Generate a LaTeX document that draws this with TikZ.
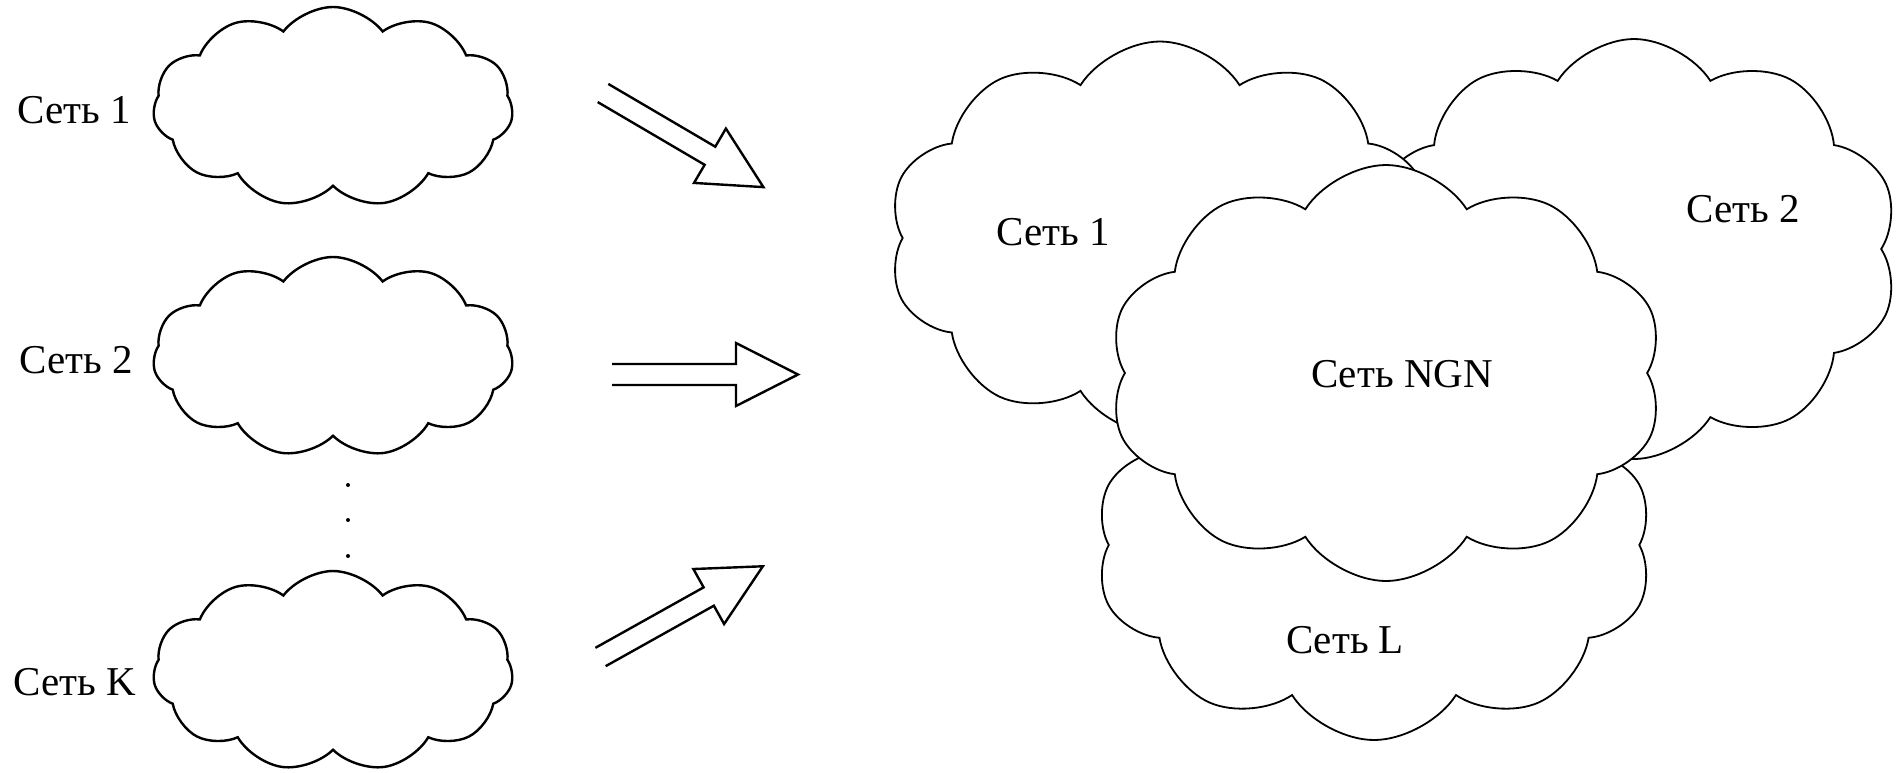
\documentclass[tikz,border=0pt]{standalone}
\usepackage{fontspec}
\setmainfont{Liberation Serif}
\usetikzlibrary{shapes.symbols}
\tikzset{
  lbl/.style={inner sep=0pt, font=\fontsize{10.25}{12}\selectfont},
  smallcloud/.style={cloud, cloud puffs=11, cloud puff arc=105, cloud ignores aspect,
    draw, line width=0.6pt, fill=white, inner sep=0pt, minimum width=90pt, minimum height=50pt},
  bigcloud/.style={cloud, cloud puffs=10, cloud puff arc=115, cloud ignores aspect,
    draw, line width=0.45pt, fill=white, inner sep=0pt},
  hollowarrow/.pic={\draw[line width=0.6pt, line join=miter]
    (0,-10.5) -- (124,-10.5) -- (124,-31.5) -- (186,0) -- (124,31.5) -- (124,10.5) -- (0,10.5);},
  dotmark/.style={circle, fill=black, inner sep=0pt, minimum size=1pt}
}
\begin{document}
\begin{tikzpicture}[x=0.25pt,y=-0.25pt]
\useasboundingbox (0,0) rectangle (1901,772);
% left clouds
\node[smallcloud] (c1) at (333,107) {};
\node[smallcloud] (c2) at (333,357) {};
\node[smallcloud] (cK) at (333,671) {};
\node[lbl] (t1) at (74,110) {Сеть 1};
\node[lbl] (t2) at (76,360) {Сеть 2};
\node[lbl] (tK) at (75,682) {Сеть K};
% dots
\node[dotmark] (d1) at (348,485) {};
\node[dotmark] (d2) at (348,520) {};
\node[dotmark] (d3) at (348,556) {};
% arrows
\coordinate (a1) at (603,93);
\coordinate (a2) at (612,374.5);
\coordinate (a3) at (600.5,657);
\pic[rotate=-30.4] at (a1) {hollowarrow};
\pic at (a2) {hollowarrow};
\pic[rotate=29.2] at (a3) {hollowarrow};
% right clouds
\node[bigcloud, minimum width=132.5pt, minimum height=105pt] (r2) at (1634,249) {};
\node[bigcloud, minimum width=136pt, minimum height=98.25pt] (r1) at (1160,238) {};
\node[bigcloud, minimum width=139.5pt, minimum height=97.5pt] (rL) at (1374,545) {};
\node[bigcloud, minimum width=138.75pt, minimum height=104pt] (rN) at (1386,373) {};
\node[lbl] (tr1) at (1053,232) {Сеть 1};
\node[lbl] (tr2) at (1743,209) {Сеть 2};
\node[lbl] (trN) at (1402,374) {Сеть NGN};
\node[lbl] (trL) at (1345,640) {Сеть L};
\end{tikzpicture}
\end{document}
